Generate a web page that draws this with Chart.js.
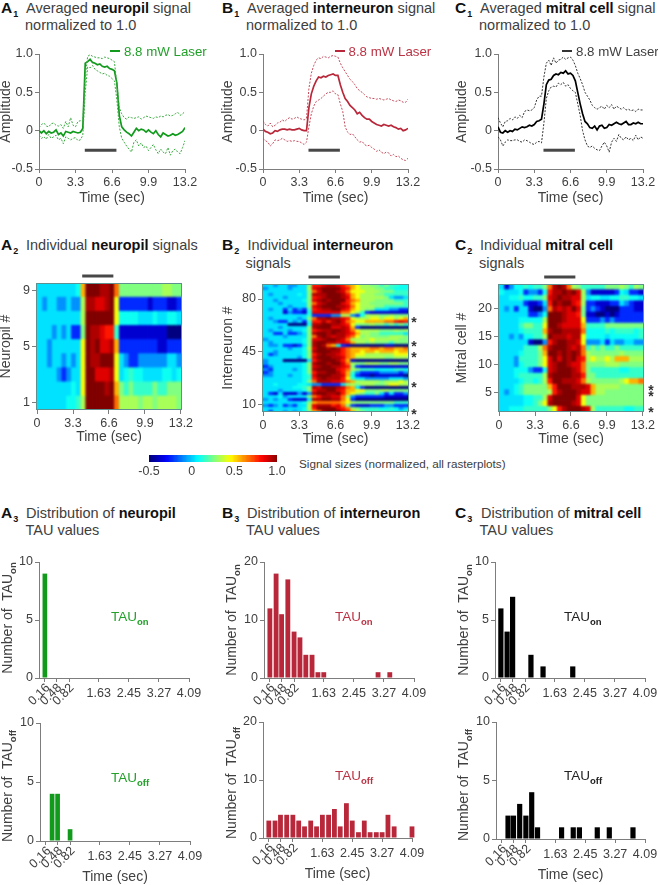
<!DOCTYPE html>
<html lang="en">
<head>
<meta charset="UTF-8">
<title>Neuropil, interneuron and mitral cell signals</title>
<script src="https://cdn.jsdelivr.net/npm/chart.js"></script>
<style>
    html, body { margin: 0; padding: 0; background: #fff; }
    #page { position: relative; width: 658px; height: 885px; overflow: hidden; font-family: "Liberation Sans", Arial, sans-serif; color: #404040; }
    #page canvas { position: absolute; }
    .txt { position: absolute; white-space: nowrap; transform: translateY(-50%); }
    .title { font-size: 14.5px; }
    .title b { color: #111; }
    .letter { font-size: 15.5px; font-weight: bold; color: #111; }
    .letter sub { font-size: 9px; vertical-align: -4px; line-height: 0; margin-left: 1px; }
    .vert { transform: translate(-50%, -50%) rotate(-90deg); font-size: 14px; }
    .tau { font-size: 13.5px; }
    sub.small { font-size: 9.5px; font-weight: bold; vertical-align: -4px; line-height: 0; }
    .star { font-size: 14px; font-weight: bold; color: #333; transform: translate(-50%, -30%); }
</style>
</head>
<body>
<div id="page"></div>
<script>
// averaged traces, one sample every 0.22 s
const sampleStep = 0.22;
const neuropilMean = [0,-.03,0,-.04,-.01,-.03,-.02,.01,-.05,-.03,-.07,-.01,-.02,-.03,-.01,-.02,-.03,-.02,.03,.88,.9,.93,.89,.88,.86,.87,.84,.83,.84,.81,.8,.78,.62,.2,.05,.01,-.02,-.04,-.07,-.02,.03,0,.02,.01,-.02,.01,-.02,-.04,0,-.05,-.08,-.03,-.05,-.07,-.06,-.04,-.06,-.05,-.03,-.01,.04];
const neuropilUpper = [.04,.08,.1,.06,.05,.09,.1,.07,.06,.08,.03,.12,.05,.17,.07,.05,.12,.13,.12,.7,.97,.99,.97,.96,.95,.95,.94,.96,.95,.94,.92,.9,.6,.3,.22,.17,.15,.18,.17,.16,.17,.18,.15,.17,.19,.18,.17,.16,.18,.17,.19,.18,.2,.21,.19,.2,.22,.24,.2,.22,.25];
const neuropilLower = [-.06,-.1,-.08,-.11,-.05,-.1,-.08,-.06,-.12,-.1,-.17,-.08,-.1,-.12,-.1,-.09,-.13,-.12,-.06,.5,.83,.82,.85,.8,.78,.76,.74,.75,.72,.71,.68,.65,.4,.05,-.1,-.15,-.2,-.24,-.28,-.15,-.12,-.2,-.16,-.22,-.2,-.26,-.22,-.18,-.25,-.3,-.24,-.28,-.3,-.22,-.32,-.26,-.24,-.28,-.3,-.22,-.13];
const interMean = [.02,-.01,-.02,-.04,-.03,0,-.01,.01,.02,.02,.01,.02,.01,.01,.02,.03,.01,0,0,.3,.48,.58,.65,.7,.69,.71,.7,.72,.73,.74,.72,.72,.6,.5,.42,.38,.33,.3,.27,.22,.24,.2,.17,.15,.15,.12,.1,.08,.07,.06,.08,.07,.06,.07,.05,.04,.02,.03,0,.01,.03];
const interUpper = [.13,.08,.06,.1,.05,.07,.1,.11,.14,.12,.15,.17,.15,.16,.18,.16,.15,.14,.16,.55,.75,.85,.92,.95,.94,.97,.96,.95,.97,.98,.97,.96,.88,.82,.77,.72,.67,.64,.6,.55,.52,.5,.47,.44,.43,.42,.42,.41,.42,.41,.4,.41,.42,.4,.39,.38,.4,.39,.37,.37,.41];
const interLower = [-.1,-.13,-.15,-.2,-.17,-.12,-.13,-.12,-.1,-.12,-.14,-.13,-.14,-.13,-.14,-.14,-.16,-.18,-.15,.05,.22,.32,.38,.4,.42,.45,.48,.5,.5,.52,.48,.47,.35,.25,.05,-.02,-.05,-.04,-.08,-.12,-.15,-.14,-.18,-.2,-.19,-.22,-.24,-.27,-.25,-.28,-.3,-.28,-.29,-.33,-.31,-.34,-.33,-.36,-.38,-.39,-.36];
const mitralMean = [.05,-.02,-.03,0,-.02,0,-.01,.02,.01,.03,.05,.04,.05,.07,.06,.08,.12,.13,.15,.35,.6,.66,.67,.72,.74,.73,.76,.75,.78,.74,.75,.72,.65,.5,.35,.22,.12,.09,.04,.03,.06,.01,.06,.07,.03,.04,.08,.07,.09,.11,.09,.08,.1,.12,.08,.08,.1,.09,.11,.09,.09];
const mitralUpper = [.17,.1,.05,.12,.13,.16,.14,.18,.16,.2,.17,.25,.27,.26,.27,.3,.4,.45,.45,.7,.88,.92,.85,.95,.88,.92,.93,.96,.93,.95,.96,.92,.85,.75,.68,.6,.5,.45,.4,.33,.3,.28,.3,.32,.28,.33,.3,.34,.28,.32,.3,.28,.3,.27,.28,.26,.27,.25,.28,.27,.27];
const mitralLower = [-.08,-.12,-.2,-.15,-.12,-.13,-.13,-.12,-.12,-.14,-.15,-.12,-.13,-.15,-.17,-.18,-.15,-.14,-.16,.1,.42,.52,.57,.58,.57,.62,.6,.63,.58,.6,.55,.52,.5,.35,.2,0,-.12,-.2,-.22,-.2,-.23,-.25,-.26,-.2,-.15,-.2,-.28,-.15,-.1,-.14,-.05,-.1,-.12,-.08,-.12,-.1,-.13,-.06,-.12,-.08,-.1];

const stimTimes = [4.14, 7.0];
const timeTicks = [0, 3.3, 6.6, 9.9, 13.2];
const timeLabels = ['0', '3.3', '6.6', '9.9', '13.2'];
const ampTicks = [-0.5, 0, 0.5, 1];
const ampLabels = ['-0.5', '0', '0.5', '1.0'];

// rasterplots: colour levels, top row first, one column every 0.44 s
// level -5..10 -> signal size, read against the colour bar
const levelSignal = { '-5': -.5, '-4': -.38, '-3': -.25, '-2': -.1, '-1': .02, '0': .08, '1': .14, '2': .25, '3': .31, '4': .42, '5': .55, '6': .65, '7': .78, '8': .86, '9': .93, '10': 1 };
const columnStep = 0.44;
const neuropilRowIds = [9,8,7,6,5,4,3,2,1];
const neuropilRaster = [
[-1,-1,-1,-1,-1,-1,-1,-1,0,5,10,10,10,9,9,10,6,2,2,2,2,2,2,2,2,2,3,3,2,2],
[-1,-2,-1,-1,-2,-2,-1,-2,-2,3,9,9,8,8,9,10,4,-3,-3,-3,-3,-3,-3,-4,-3,-3,-3,-4,-4,-3],
[-1,-1,-1,-1,-1,-1,-1,-1,-1,3,10,10,10,10,10,10,4,0,0,0,0,-1,-1,-1,0,-1,-1,0,0,-1],
[-1,-1,-1,-2,-1,-2,-1,-3,-3,2,10,9,9,8,7,7,1,-4,-4,-4,-4,-4,-4,-4,-4,-4,-4,-5,-5,-5],
[-1,-1,-2,-1,-1,-1,-1,-1,-1,4,10,9,10,8,8,9,5,-3,-3,-3,-3,-3,-3,-3,-3,-4,-4,-3,-3,-3],
[-1,-1,-2,-1,-1,-2,-1,-2,-1,4,10,9,9,10,10,10,4,-1,-2,-3,-3,-2,-2,-2,-2,-2,-2,-1,-1,-2],
[-1,-1,-1,-1,-2,-3,-2,-1,-1,4,10,10,8,8,8,9,4,-1,0,1,0,0,-1,-1,-1,-1,0,0,-1,0],
[-1,-1,-1,-1,-1,-1,-1,0,-1,4,10,10,10,10,9,10,5,2,1,2,1,1,1,1,2,1,1,2,2,2],
[-1,-1,-1,-1,-1,-1,0,0,1,3,10,10,10,10,10,10,6,3,3,3,3,2,3,3,2,3,3,3,3,2]
];
const interRowIds = [89,87,85,83,81,79,77,75,73,71,69,67,65,63,61,59,57,55,53,51,49,47,45,43,41,39,37,35,33,31,29,27,25,23,21,19,17,15,13,11,9,7,5];
const interRaster = [
[-1,-1,-2,-1,-1,-2,-2,-1,-1,2,7,7,8,9,9,8,7,6,5,4,3,3,2,2,1,2,1,1,0,0],
[-2,-1,-1,-1,-1,-2,-1,-1,-1,3,8,9,10,10,10,10,8,7,5,4,3,3,3,2,2,1,1,0,0,0],
[-1,-1,-1,-1,-1,-1,-1,-1,-1,2,6,8,10,10,10,9,8,6,4,4,4,3,3,3,2,2,2,1,1,1],
[-1,-2,-1,-1,-1,-1,-1,0,-1,2,9,9,9,10,10,10,9,7,5,4,3,3,3,2,2,1,1,1,1,1],
[-1,-1,-1,-1,-2,-1,-1,-1,-1,2,7,8,9,10,10,10,9,8,5,4,3,3,3,3,3,2,-1,-2,-2,-1],
[-1,-1,-2,-1,-1,-1,-1,-1,0,2,8,9,10,9,10,10,10,7,6,5,3,3,3,2,2,2,2,1,1,1],
[-1,-1,-1,-2,-1,-1,-1,-1,-1,2,6,8,9,10,10,10,8,7,5,4,3,3,2,2,2,2,2,2,2,1],
[-1,-1,-1,-1,-1,-2,-1,-1,-1,2,8,9,10,10,10,9,9,8,6,4,3,3,3,2,2,1,1,1,1,1],
[-1,-2,-1,-1,-3,-1,-3,-2,-3,1,7,8,9,9,10,10,8,7,5,4,3,2,2,-1,-1,-1,-2,-2,-3,-3],
[-1,-1,-1,-1,-4,-2,-3,-3,-4,0,8,8,8,8,8,8,6,6,4,3,1,-3,-4,-4,-4,-4,-4,-4,-4,-4],
[-1,-1,-1,-1,-1,-1,-1,-1,-1,1,-3,-3,-3,-3,-2,-2,3,3,-2,-3,0,3,3,3,2,2,3,2,2,2],
[-1,-2,-1,-1,-1,-1,-1,-2,-1,2,6,9,9,10,9,9,8,7,4,3,3,3,4,4,3,4,4,3,4,5],
[-1,-1,-2,-3,-3,-1,-2,-1,-3,1,7,7,9,7,9,10,8,6,5,4,4,5,5,5,5,6,6,7,8,7],
[-1,-1,-1,-1,-1,-5,-5,-5,-5,0,9,9,10,10,9,9,8,7,4,2,2,2,3,2,2,1,2,1,2,1],
[-1,-1,-1,-2,-1,-1,-1,-1,-1,2,9,10,10,10,8,8,9,8,5,-3,-5,-5,-5,-5,-5,-5,-5,-5,-5,-5],
[-1,-2,-1,-1,-1,-2,-1,-1,0,2,7,8,9,9,10,10,9,8,6,4,3,3,3,3,2,2,2,3,2,3],
[-1,-1,-3,-3,-1,-3,-3,-2,-1,2,9,10,10,9,10,9,9,8,7,5,3,3,2,2,1,1,1,1,1,-1],
[-1,-1,-1,-1,-2,-1,-1,-1,-1,2,6,9,10,9,8,9,9,7,6,4,2,3,2,2,2,2,3,3,3,2],
[-2,-1,-1,-1,-1,-1,-1,-1,0,2,8,8,9,10,10,9,8,6,3,3,3,3,4,3,3,3,3,3,2,2],
[-1,-2,-1,-1,-1,-1,-1,-1,0,2,9,10,10,9,9,8,8,7,5,3,3,2,3,2,2,2,1,2,2,2],
[-1,-2,-2,-1,-3,-3,-4,-3,-1,2,9,10,9,6,5,0,-3,-4,-5,-5,-5,-5,-5,-5,-5,-4,-4,-5,-5,-5],
[-1,-1,-1,-1,-1,-2,-1,-1,0,3,8,10,10,9,10,9,7,6,5,5,5,5,6,6,5,6,6,5,5,6],
[-1,-1,-2,-1,-1,-1,-1,-1,0,2,9,10,10,10,9,9,7,6,5,5,4,5,5,4,5,5,5,4,5,5],
[-1,-3,-2,-1,-1,-1,-1,-1,0,2,7,9,10,9,9,8,7,6,5,4,4,3,3,3,3,3,3,4,4,4],
[-1,-1,-1,-1,-1,-1,-1,-2,0,2,8,10,10,10,9,9,8,6,5,3,3,3,3,3,3,2,2,3,3,3],
[-2,-1,-1,-1,-5,-5,-5,-5,-5,-1,7,9,10,10,10,9,7,5,-4,-5,-5,-5,-5,-5,-5,-5,-5,-5,-5,-5],
[-2,-1,-1,-1,-1,-1,-1,-1,0,2,9,10,10,9,10,10,8,6,3,2,2,3,3,3,2,2,3,3,2,2],
[-3,-2,-1,-1,-1,-1,-1,-1,0,2,8,9,10,10,9,9,8,7,2,-3,-4,-4,-4,-4,-4,-4,-4,-4,-4,-4],
[-2,-3,-1,-1,-1,-1,-2,-1,0,2,9,10,10,10,10,8,7,6,3,2,1,1,1,0,0,0,0,1,1,0],
[-3,-2,-1,-1,-1,-1,-1,-1,0,2,7,9,9,10,10,9,7,5,1,-2,-3,-3,-3,-3,-2,-2,-2,-2,-3,-2],
[-2,-2,-1,-1,-1,-2,-1,-1,0,1,8,10,10,10,9,9,8,5,0,-3,-4,-4,-5,-4,-4,-4,-4,-4,-4,-5],
[-1,-1,-1,-1,-1,-1,-1,-1,0,1,7,9,10,9,9,9,7,4,1,-1,-1,-2,-2,-2,-2,-2,-1,-1,-1,-2],
[-1,-1,-1,-1,-1,-1,-1,-1,0,2,6,9,9,9,8,8,7,6,5,3,3,3,3,3,2,3,3,3,4,3],
[-1,-1,0,-1,-1,-1,-1,0,0,-1,-2,-2,-3,-3,-3,-3,-1,2,3,2,3,3,3,2,2,3,4,4,3,3],
[-1,-1,-1,-1,-1,-1,0,0,1,2,9,8,10,10,10,9,8,6,5,-1,-3,-5,-5,-5,-5,-5,-5,-5,-5,-5],
[-1,-1,-1,-2,-1,-1,-1,-1,0,2,7,9,9,10,10,8,7,5,5,4,4,2,2,2,3,3,2,2,2,2],
[-1,-3,-4,-1,-4,-4,-4,-2,-4,-2,9,10,10,9,9,10,7,5,4,3,2,1,1,2,-1,-3,-1,-3,-3,-2],
[-1,-1,-1,0,-2,-1,-1,-1,-1,2,6,7,9,9,8,8,6,3,-2,-3,-3,-3,-3,-3,-3,-4,-4,-4,-4,-4],
[-2,-1,-2,-1,-1,-3,-4,-4,-4,-1,9,9,10,10,9,9,6,4,-3,-5,-5,-5,-5,-5,-5,-5,-5,-5,-5,-5],
[-1,-1,-1,-1,-1,-1,-1,-1,0,2,5,6,6,6,6,6,5,4,3,2,2,2,2,2,2,2,2,1,1,1],
[-2,-3,-2,-1,-3,-2,-3,-1,-1,3,8,9,9,9,7,8,6,2,-3,-4,-4,-4,-3,-3,-3,-2,-2,-3,-3,-3],
[-1,-1,-1,-1,-1,-1,-1,-1,0,3,7,10,10,10,10,8,7,6,3,2,1,1,1,1,0,0,1,0,-2,-1],
[-1,-3,-1,-1,-2,-1,-2,-1,0,2,5,6,9,10,10,10,8,7,5,3,2,1,1,1,1,1,0,0,0,1]
];
const mitralRowIds = [24,23,22,21,20,19,18,17,16,15,14,13,12,11,10,9,8,7,6,5,4,3,2];
const mitralRaster = [
[-1,-4,-2,0,0,1,0,1,1,2,6,9,10,9,6,3,2,1,1,1,1,1,2,2,2,3,2,1,3,2],
[0,-1,-1,-1,0,-3,-2,-2,-3,0,7,9,9,10,9,10,8,3,-2,-4,-4,-4,-4,-4,-3,0,-1,-3,-3,-4],
[-1,-1,0,0,1,0,0,1,1,2,8,9,10,9,9,8,8,3,-1,0,0,-1,-1,0,0,1,1,0,0,-1],
[-1,-1,-1,-1,-1,-3,-4,-4,-3,-1,7,10,9,10,10,8,7,3,-3,-3,-4,-4,-4,-3,-3,-1,-2,-3,-4,-4],
[-1,-2,-1,-3,-1,-1,-4,-5,-5,-2,6,9,8,9,8,10,8,2,-3,-2,-3,-4,-5,-5,-5,-3,-3,-3,-4,-4],
[-1,-1,-1,-1,-1,-1,-3,-3,-2,0,10,10,10,9,8,8,7,2,-4,-4,-5,-5,-4,-5,-4,-3,-3,-3,-3,-3],
[-1,-1,-1,-1,0,0,0,0,0,3,10,10,10,9,8,8,8,4,-3,-3,-3,-2,-3,-2,-3,-3,-3,-3,-3,-3],
[-1,-1,-1,-1,1,2,2,1,1,4,10,10,9,8,8,8,8,5,1,1,1,1,2,2,2,2,2,2,2,2],
[-1,-1,-1,-1,0,1,1,1,1,5,9,10,10,9,9,9,9,6,0,0,0,0,1,0,1,1,1,1,0,1],
[-1,-1,-2,-1,-2,0,0,1,1,3,10,9,9,9,8,9,9,4,0,0,0,0,-1,0,0,0,0,0,0,1],
[-1,-1,-1,-1,-1,-1,-4,-5,-5,-2,7,9,10,10,9,9,8,4,-2,-2,-2,-1,-3,-1,-2,-2,-1,-1,-2,-2],
[-1,-1,-1,-1,-1,1,1,1,3,6,9,10,10,10,9,8,9,6,1,2,1,2,1,1,2,1,1,1,1,1],
[-1,-1,-1,-1,0,1,1,1,2,5,10,10,9,10,9,10,9,6,3,2,2,2,2,2,2,3,2,2,2,2],
[-1,-1,-1,-2,1,1,1,1,2,4,8,10,8,10,9,10,8,7,3,4,3,3,4,3,5,5,5,3,3,3],
[-1,-1,-1,-2,0,1,1,1,2,4,8,9,10,10,9,8,8,6,2,2,2,2,3,3,3,2,2,2,2,2],
[-1,-1,-1,0,0,0,-2,-3,-3,0,8,9,10,10,10,9,8,6,2,1,1,1,1,1,1,0,0,1,1,1],
[-1,-1,-1,0,1,1,1,1,1,3,9,10,10,10,10,9,9,7,2,2,1,1,1,1,1,1,1,1,1,1],
[-1,-1,-1,-1,0,1,1,0,1,3,7,10,10,9,9,9,8,6,3,2,2,2,2,2,2,3,4,5,5,6],
[-1,-1,-1,0,1,2,2,2,2,2,5,7,10,10,10,9,9,9,8,5,3,3,3,3,3,2,2,2,2,2],
[-1,-2,-1,0,1,2,2,2,2,2,3,7,9,10,10,10,9,8,8,5,3,3,2,2,2,2,2,2,2,2],
[-1,-1,-1,-1,-1,0,0,1,1,3,8,10,10,10,10,10,8,4,2,2,2,2,2,2,2,2,2,2,2,2],
[-1,-1,-1,-1,-1,0,0,1,2,4,9,10,10,10,10,9,8,4,2,2,2,2,2,2,2,2,2,2,2,2],
[-1,-1,0,0,0,1,1,1,1,1,2,4,7,9,10,10,10,9,8,3,1,1,1,1,1,1,0,0,1,1]
];
const colorbarSteps = [-.5,-.45,-.4,-.35,-.3,-.25,-.2,-.15,-.1,-.05,0,.05,.1,.15,.2,.25,.3,.35,.4,.45,.5,.55,.6,.65,.7,.75,.8,.85,.9,.95,1];
const colorbarTicks = [-0.5, 0, 0.5, 1];

// TAU histograms, one count per bin
const tauBins = [.16,.33,.48,.65,.82,.98,1.14,1.31,1.47,1.63,1.8,1.96,2.12,2.29,2.45,2.62,2.78,2.94,3.11,3.27,3.43,3.6,3.76,3.92,4.09];
const tauTicks = [.16,.48,.82,1.63,2.45,3.27,4.09];
const tauLabels = ['0.16','0.48','0.82','1.63','2.45','3.27','4.09'];
const neuropilOn  = [9,0,0,0,0,0,0,0,0,0,0,0,0,0,0,0,0,0,0,0,0,0,0,0,0];
const neuropilOff = [0,4,4,0,1,0,0,0,0,0,0,0,0,0,0,0,0,0,0,0,0,0,0,0,0];
const interOn  = [12,18,11,17,8,7,4,4,1,1,0,0,0,0,0,0,0,0,1,0,1,0,0,0,0];
const interOff = [3,3,4,4,4,3,2,3,2,4,4,5,2,6,3,1,3,1,1,1,4,2,0,0,2];
const mitralOn  = [6,4,7,0,0,2,0,1,0,0,0,0,1,0,0,0,0,0,0,0,0,0,0,0,0];
const mitralOff = [0,2,2,3,2,4,1,0,0,0,1,0,1,1,0,0,1,0,1,0,0,0,1,0,0];

const GREEN = '#119a1c', RED = '#b8283a', BLACK = '#000000';
const GREY_TEXT = '#404040', AXIS = '#7d7d7d';
const page = document.getElementById('page');
Chart.defaults.font.family = '"Liberation Sans", Arial, sans-serif';
Chart.defaults.color = GREY_TEXT;

function text(html, x, y, cls, css) {
    const d = document.createElement('div');
    d.className = 'txt ' + (cls || '');
    d.innerHTML = html;
    d.style.left = x + 'px';
    d.style.top = y + 'px';
    if (css) d.style.cssText += css;
    page.appendChild(d);
}

// canvas whose chart area lands exactly on the plot rectangle
function newCanvas(r, m) {
    const c = document.createElement('canvas');
    c.width = r.w + m.l + m.r;
    c.height = r.h + m.t + m.b;
    c.style.left = (r.x - m.l) + 'px';
    c.style.top = (r.y - m.t) + 'px';
    page.appendChild(c);
    return c;
}

function baseOptions(m) {
    return {
        responsive: false,
        devicePixelRatio: 1,
        animation: false,
        events: [],
        layout: { padding: { top: m.t, right: m.r, left: 0, bottom: 0 } },
        plugins: { legend: { display: false }, tooltip: { enabled: false } }
    };
}

function axis(m, side, min, max, ticks, labels, extra) {
    return Object.assign({
        type: 'linear', min, max, offset: false,
        border: { display: true, color: AXIS, width: 1 },
        grid: { display: true, offset: false, drawOnChartArea: false, drawTicks: true, tickLength: 4, color: AXIS },
        ticks: { autoSkip: false, maxRotation: 0, minRotation: 0, padding: side === 'x' ? (m.pad || 2) : 2, font: { size: 12.5 }, color: GREY_TEXT,
            callback: (v, i) => labels[i] },
        afterBuildTicks: s => { s.ticks = ticks.map(v => ({ value: v })); },
        afterFit: s => { if (side === 'x') s.height = m.b; else s.width = m.l; }
    }, extra || {});
}

const axisTitle = t => ({ display: true, text: t, padding: 0, color: GREY_TEXT, font: { size: 14 } });

function lineChart(r, l, mean, upper, lower, color, dashColor) {
    const m = { l, r: 18, t: 10, b: 38 };
    const pts = a => a.map((y, i) => ({ x: i * sampleStep, y }));
    const dashed = a => ({ data: pts(a), borderColor: dashColor, borderWidth: 1, borderDash: [2, 1.5], pointRadius: 0, tension: 0 });
    new Chart(newCanvas(r, m), {
        type: 'line',
        data: { datasets: [
            dashed(upper), dashed(lower),
            { data: pts(mean), borderColor: color, borderWidth: 1.7, pointRadius: 0, tension: 0 },
            { data: stimTimes.map(x => ({ x, y: -0.255 })), borderColor: '#474747', borderWidth: 3, pointRadius: 0 }
        ] },
        options: Object.assign(baseOptions(m), { scales: {
            x: axis(m, 'x', 0, 13.2, timeTicks, timeLabels, { title: axisTitle('Time (sec)') }),
            y: axis(m, 'y', -0.5, 1, ampTicks, ampLabels, { title: axisTitle('Amplitude') })
        } })
    });
}

function jet(v) {
    const t = (v + 0.5) / 1.5;
    const ch = k => Math.round(255 * Math.max(0, Math.min(1, 1.5 - Math.abs(4 * t - k))));
    return `rgb(${ch(3)},${ch(2)},${ch(1)})`;
}

// soften the cells the way the interpolated rasters look
const softenCells = {
    id: 'softenCells',
    afterDatasetsDraw(chart) {
        const { ctx, chartArea: a, canvas } = chart;
        ctx.save();
        ctx.beginPath();
        ctx.rect(a.left, a.top, a.width, a.height);
        ctx.clip();
        ctx.filter = 'blur(1.1px)';
        ctx.drawImage(canvas, 0, 0);
        ctx.restore();
    }
};

const rasterDecor = {
    id: 'rasterDecor',
    afterDraw(chart) {
        const { ctx, chartArea: a, scales } = chart;
        ctx.save();
        ctx.strokeStyle = '#5f9090';
        ctx.lineWidth = 1;
        ctx.strokeRect(a.left + .5, a.top + .5, a.width - 1, a.height - 1);
        ctx.strokeStyle = '#474747';
        ctx.lineWidth = 3;
        ctx.beginPath();
        ctx.moveTo(scales.x.getPixelForValue(stimTimes[0]), a.top - 7);
        ctx.lineTo(scales.x.getPixelForValue(stimTimes[1]), a.top - 7);
        ctx.stroke();
        ctx.restore();
    }
};

function rasterChart(r, l, raster, rowIds, yMin, yMax, yTicks, yTitle) {
    const m = { l, r: 18, t: 12, b: 36 };
    const datasets = raster[0].map((_, k) => ({
        data: raster.map((row, i) => ({ x: [k * columnStep - (k ? 0 : 0.2), (k + 1) * columnStep + 0.03 + (k === 29 ? 0.2 : 0)], y: rowIds[i] })),
        backgroundColor: raster.map(row => jet(levelSignal[row[k]])),
        borderWidth: 0, grouped: false, barPercentage: 1.04, categoryPercentage: 1
    }));
    new Chart(newCanvas(r, m), {
        type: 'bar',
        data: { datasets },
        plugins: [softenCells, rasterDecor],
        options: Object.assign(baseOptions(m), { indexAxis: 'y', scales: {
            x: axis(m, 'x', -0.1, 13.3, timeTicks, timeLabels, { title: axisTitle('Time (sec)'), border: { display: false } }),
            y: axis(m, 'y', yMin, yMax, yTicks, yTicks.map(String), { title: axisTitle(yTitle), border: { display: false } })
        } })
    });
}

function colorbarChart(r) {
    const m = { l: 20, r: 20, t: 0, b: 18 };
    const w = 0.05;
    new Chart(newCanvas(r, m), {
        type: 'bar',
        data: { datasets: colorbarSteps.map(v => ({
            data: [{ x: [v - w / 2, v + w / 2 + 0.01], y: 1 }],
            backgroundColor: jet(v), borderWidth: 0, grouped: false, barPercentage: 1, categoryPercentage: 1
        })) },
        plugins: [softenCells],
        options: Object.assign(baseOptions(m), { indexAxis: 'y', scales: {
            x: axis(m, 'x', -0.5, 1, colorbarTicks, ['-0.5', '0', '0.5', '1.0'], {
                border: { display: false }, grid: { display: false, drawTicks: false }
            }),
            y: { type: 'linear', display: false, min: 0.5, max: 1.5, offset: false, grid: { offset: false },
                afterFit: s => { s.width = m.l; } }
        } })
    });
}

const rotatedTauLabels = {
    id: 'rotatedTauLabels',
    afterDraw(chart) {
        const { ctx, scales: { x } } = chart;
        ctx.save();
        ctx.font = '12.5px "Liberation Sans", Arial, sans-serif';
        ctx.fillStyle = GREY_TEXT;
        ctx.textAlign = 'right';
        ctx.textBaseline = 'middle';
        tauTicks.slice(0, 3).forEach((v, i) => {
            ctx.save();
            ctx.translate(x.getPixelForValue(v) + 3, x.top + 8);
            ctx.rotate(-Math.PI / 4);
            ctx.fillText(tauLabels[i], 0, 0);
            ctx.restore();
        });
        ctx.restore();
    }
};

function tauChart(r, counts, yMax, color, withTitle, barPct) {
    const m = { l: 30, r: 20, t: 10, b: withTitle ? 45 : 30, pad: 4 };
    const yTicks = [0, yMax / 2, yMax];
    new Chart(newCanvas(r, m), {
        type: 'bar',
        data: { datasets: [{
            data: counts.map((y, i) => ({ x: tauBins[i], y })),
            backgroundColor: color, borderWidth: 0, barPercentage: barPct, categoryPercentage: 1, clip: false
        }] },
        plugins: [rotatedTauLabels],
        options: Object.assign(baseOptions(m), { scales: {
            x: axis(m, 'x', 0, 4.09, tauTicks, tauLabels.map((s, i) => i < 3 ? '' : s),
                Object.assign({ }, withTitle ? { title: axisTitle('Time (sec)') } : {})),
            y: axis(m, 'y', 0, yMax, yTicks, yTicks.map(String))
        } })
    });
}

// row 1: averaged traces
lineChart({ x: 39, y: 54, w: 146, h: 115 }, 41, neuropilMean, neuropilUpper, neuropilLower, GREEN, '#3aaa40');
lineChart({ x: 263, y: 54, w: 145, h: 115 }, 43, interMean, interUpper, interLower, RED, '#c44a5b');
lineChart({ x: 498, y: 54, w: 145, h: 115 }, 44, mitralMean, mitralUpper, mitralLower, BLACK, '#333333');

// row 2: rasterplots
rasterChart({ x: 36, y: 283, w: 146, h: 127 }, 38, neuropilRaster, neuropilRowIds, 0.5, 9.5, [1, 5, 9], 'Neuropil #');
rasterChart({ x: 262, y: 284, w: 147, h: 128 }, 42, interRaster, interRowIds, 4.7, 90, [10, 45, 80], 'Interneuron #');
rasterChart({ x: 498, y: 284, w: 146, h: 128 }, 44, mitralRaster, mitralRowIds, 1.45, 24.5, [5, 10, 15, 20], 'Mitral cell #');
colorbarChart({ x: 149, y: 455, w: 128, h: 7 });

// row 3: TAU histograms
tauChart({ x: 39, y: 562, w: 150, h: 116 }, neuropilOn, 10, GREEN, false, 0.85);
tauChart({ x: 40, y: 723, w: 150, h: 118 }, neuropilOff, 10, GREEN, true, 0.85);
tauChart({ x: 264, y: 562, w: 150, h: 116 }, interOn, 20, RED, false, 0.88);
tauChart({ x: 263, y: 722, w: 149, h: 116 }, interOff, 20, RED, true, 0.88);
tauChart({ x: 495, y: 562, w: 150, h: 116 }, mitralOn, 10, BLACK, false, 0.95);
tauChart({ x: 496, y: 722, w: 149, h: 117 }, mitralOff, 10, BLACK, true, 0.95);

// panel titles
[
    ['A', '1', 1, 26, 7.5, 'Averaged <b>neuropil</b> signal', 'normalized to 1.0', 25, 24.5],
    ['B', '1', 222, 247, 7.5, 'Averaged <b>interneuron</b> signal', 'normalized to 1.0', 246, 24.5],
    ['C', '1', 455, 480, 7.5, 'Averaged <b>mitral cell</b> signal', 'normalized to 1.0', 479, 24.5],
    ['A', '2', 1, 26, 245, 'Individual <b>neuropil</b> signals'],
    ['B', '2', 222, 247.5, 245, 'Individual <b>interneuron</b>', 'signals', 245.5, 263],
    ['C', '2', 455, 480, 245, 'Individual <b>mitral cell</b>', 'signals', 479, 263],
    ['A', '3', 1, 26, 512.5, 'Distribution of <b>neuropil</b>', 'TAU values', 25.5, 530],
    ['B', '3', 222, 247, 512.5, 'Distribution of <b>interneuron</b>', 'TAU values', 246, 530],
    ['C', '3', 455, 481, 512.5, 'Distribution of <b>mitral cell</b>', 'TAU values', 479.5, 530]
].forEach(([l, n, lx, tx, y, line1, line2, x2, y2]) => {
    text(`${l}<sub>${n}</sub>`, lx, y, 'letter');
    text(line1, tx, y, 'title');
    if (line2) text(line2, x2, y2, 'title');
});

// laser legends
[[110, 124, '#22a02a', GREEN], [335, 348.5, '#bb3344', RED], [562, 576, GREY_TEXT, '#333']].forEach(([sx, tx, tc, lc]) => {
    text('', sx, 50.5, '', `width:10px;height:2px;background:${lc};`);
    text('8.8 mW Laser', tx, 50.5, '', `font-size:13.3px;color:${tc};`);
});

// significance stars
[[414, 319], [414, 343], [414, 354], [414, 384], [414, 411], [651, 387], [651, 393], [651, 409]].forEach(([x, y]) => text('*', x, y, 'star'));

// colour bar caption
text('Signal sizes (normalized, all rasterplots)', 299, 463, '', 'font-size:11.7px;');

// TAU labels and rotated axis titles
[[111, 616, '#22a02a', 'on'], [111, 777, '#22a02a', 'off'], [335, 616, '#bb3344', 'on'], [335, 775, '#bb3344', 'off'], [564, 616, '#222', 'on'], [564, 775, '#222', 'off']]
    .forEach(([x, y, c, s]) => text(`TAU<sub class="small">${s}</sub>`, x, y, 'tau', `color:${c};`));
[[7, 618, 'on'], [7, 786, 'off'], [231, 620, 'on'], [231, 783, 'off'], [463, 620, 'on'], [463, 785, 'off']]
    .forEach(([x, y, s]) => text(`Number of&nbsp; TAU<sub class="small">${s}</sub>`, x, y, 'vert'));
</script>
</body>
</html>
